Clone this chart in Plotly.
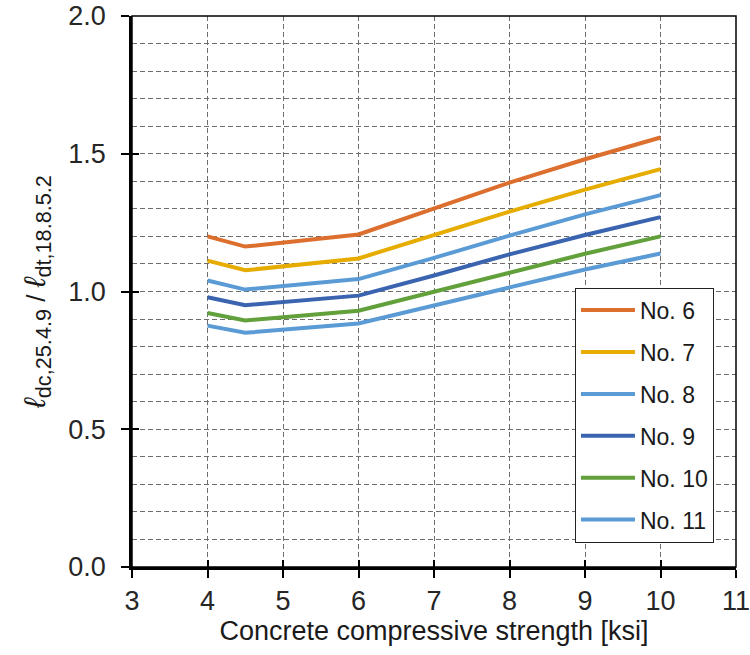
import plotly.graph_objects as go

x_vals = [4, 4.5, 6, 7, 8, 9, 10]
no6 = [1.200, 1.163, 1.207, 1.300, 1.395, 1.480, 1.559]
no7 = [1.112, 1.077, 1.120, 1.205, 1.290, 1.370, 1.444]
no8 = [1.040, 1.007, 1.045, 1.122, 1.203, 1.280, 1.350]
no9 = [0.979, 0.950, 0.985, 1.058, 1.135, 1.205, 1.270]
no10 = [0.922, 0.895, 0.930, 1.000, 1.070, 1.137, 1.200]
no11 = [0.876, 0.850, 0.884, 0.950, 1.017, 1.080, 1.138]

names = ["No. 6", "No. 7", "No. 8", "No. 9", "No. 10", "No. 11"]
series = [no6, no7, no8, no9, no10, no11]
colors = ["#DD6F2E", "#E6AC00", "#5B9BD5", "#3A64B0", "#62A03C", "#5B9BD5"]

x_range = [3, 11]
y_range = [0, 2]

fig = go.Figure()
for i, (n, s, c) in enumerate(zip(names, series, colors)):
    fig.add_trace(go.Scatter(x=x_vals, y=s, mode="lines", name=n,
                             line=dict(color=c, width=4), legendgroup=f"g{i}"))

# helper trace for overlay axes (inside tick marks -> crossing ticks)
fig.add_trace(go.Scatter(x=[None], y=[None], xaxis="x2", yaxis="y2",
                         showlegend=False, hoverinfo="skip"))

font_family = "Liberation Sans, Arial, sans-serif"
grid_color = "#6e6e6e"
dash = "5px,3px"

ytitle = ("<span style='font-size:30px'><i>ℓ</i></span><sub>dc,25.4.9</sub>"
          "<span style='font-size:26px'> / </span>"
          "<span style='font-size:30px'><i>ℓ</i></span><sub>dt,18.8.5.2</sub>")

fig.update_layout(
    width=750, height=655,
    margin=dict(l=132, r=14, t=16, b=88),
    paper_bgcolor="white", plot_bgcolor="white",
    font=dict(family=font_family, size=27, color="#262626"),
    showlegend=True,
    legend=dict(x=0.7334, y=0.507, xanchor="left", yanchor="top",
                bgcolor="white", bordercolor="#222222", borderwidth=1,
                font=dict(size=23, color="#1a1a1a"), tracegroupgap=9,
                itemwidth=54),
    xaxis=dict(range=x_range, dtick=1, tick0=3, showgrid=True, automargin=False,
               ticklabeloverflow="allow",
               gridcolor=grid_color, griddash=dash, gridwidth=1,
               showline=True, linecolor="black", linewidth=2.5,
               ticks="outside", ticklen=8, tickwidth=1.5, tickcolor="black",
               zeroline=False,
               title=dict(text="Concrete compressive strength [ksi]",
                          font=dict(size=27, color="#1a1a1a"), standoff=4)),
    yaxis=dict(range=y_range, dtick=0.5, tick0=0, tickformat=".1f", showgrid=True,
               automargin=False, ticklabelstandoff=10, ticklabeloverflow="allow",
               gridcolor=grid_color, griddash=dash, gridwidth=1,
               minor=dict(dtick=0.1, showgrid=True, gridcolor=grid_color,
                          griddash=dash, gridwidth=1),
               showline=True, linecolor="black", linewidth=2.5,
               ticks="outside", ticklen=8, tickwidth=1.5, tickcolor="black",
               zeroline=False,
               title=dict(text=ytitle, font=dict(size=31, color="#1a1a1a"),
                          standoff=14)),
    xaxis2=dict(range=x_range, dtick=1, tick0=3, overlaying="x", anchor="y2",
                side="bottom", showgrid=False, showticklabels=False,
                ticks="inside", ticklen=7, tickwidth=1.5, tickcolor="black",
                zeroline=False, showline=False),
    yaxis2=dict(range=y_range, dtick=0.5, tick0=0, overlaying="y", anchor="x2",
                side="left", showgrid=False, showticklabels=False,
                ticks="inside", ticklen=7, tickwidth=1.5, tickcolor="black",
                zeroline=False, showline=False),
)

# frame on top/right
fig.add_shape(type="rect", xref="paper", yref="paper", x0=0, y0=0, x1=1, y1=1,
              line=dict(color="black", width=1.5), layer="above")

fig.write_html("out.html")
